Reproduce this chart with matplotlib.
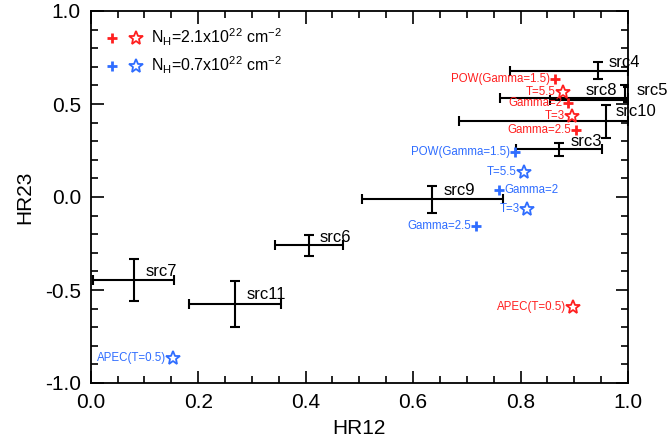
import matplotlib
matplotlib.use('Agg')
import matplotlib.pyplot as plt
import matplotlib.ticker as ticker
from matplotlib.lines import Line2D
from matplotlib.legend_handler import HandlerTuple

plt.rcParams['font.family'] = 'Liberation Sans'
plt.rcParams['mathtext.default'] = 'regular'

# источники: HR12, HR23 и ошибки (вниз/влево, вверх/вправо)
src_names = ['src7', 'src11', 'src6', 'src9', 'src3', 'src10', 'src4', 'src8', 'src5']
src_x = [0.081, 0.269, 0.406, 0.636, 0.872, 0.959, 0.945, 0.995, 1.0]
src_y = [-0.446, -0.575, -0.260, -0.012, 0.258, 0.409, 0.679, 0.534, 0.522]
src_xlo = [0.077, 0.086, 0.063, 0.131, 0.080, 0.274, 0.164, 0.234, 0.146]
src_xhi = [0.074, 0.085, 0.063, 0.132, 0.080, 0.041, 0.055, 0.005, 0.0]
src_ylo = [0.113, 0.124, 0.057, 0.072, 0.038, 0.094, 0.045, 0.010, 0.010]
src_yhi = [0.113, 0.123, 0.056, 0.071, 0.031, 0.086, 0.048, 0.068, 0.070]
# смещение подписи в пикселях
src_dx = [11, 11, 11, 11, 11, 10, 10, -40, 9]
src_dy = [8, 9, 8, 9, 8, 9, 8, 7, 9]

# модели, NH = 2.1e22 (красные) и 0.7e22 (синие)
red_plus_lab = ['POW(Gamma=1.5)', 'Gamma=2', 'Gamma=2.5']
red_plus_x = [0.865, 0.888, 0.904]
red_plus_y = [0.633, 0.507, 0.360]
red_star_lab = ['T=5.5', 'T=3', 'APEC(T=0.5)']
red_star_x = [0.879, 0.896, 0.898]
red_star_y = [0.565, 0.437, -0.593]

blue_plus_lab = ['POW(Gamma=1.5)', 'Gamma=2', 'Gamma=2.5']
blue_plus_x = [0.790, 0.760, 0.717]
blue_plus_y = [0.240, 0.038, -0.156]
blue_star_lab = ['T=5.5', 'T=3', 'APEC(T=0.5)']
blue_star_x = [0.806, 0.812, 0.154]
blue_star_y = [0.133, -0.066, -0.864]

red = '#ff1f1f'
blue = '#2f6dff'

fig = plt.figure(figsize=(6.7, 4.41), dpi=100)
ax = fig.add_axes([90.7 / 670, 1 - 383 / 441, 537.3 / 670, 372 / 441])

for i in range(len(src_names)):
    ax.errorbar(src_x[i], src_y[i],
                xerr=[[src_xlo[i]], [src_xhi[i]]],
                yerr=[[src_ylo[i]], [src_yhi[i]]],
                fmt='none', ecolor='black', elinewidth=1.5, capsize=3.5, capthick=1.5)
    ax.annotate(src_names[i], (src_x[i], src_y[i]), xytext=(src_dx[i], src_dy[i]),
                textcoords='offset pixels', fontsize=12, ha='left', va='center',
                annotation_clip=False)

def models(xs, ys, labs, color, marker, sides):
    for x, y, lab, side in zip(xs, ys, labs, sides):
        if marker == '+':
            ax.plot(x, y, marker='+', color=color, ms=6.5, mew=2, ls='none')
        else:
            ax.plot(x, y, marker='*', color=color, mfc='none', ms=10, mew=1.3, ls='none')
        off = 7 if marker == '*' else 5
        if side == 'l':
            ax.annotate(lab, (x, y), xytext=(-off, 0), textcoords='offset pixels',
                        fontsize=8.3, color=color, ha='right', va='center')
        else:
            ax.annotate(lab, (x, y), xytext=(off, 0), textcoords='offset pixels',
                        fontsize=8.3, color=color, ha='left', va='center')

models(red_plus_x, red_plus_y, red_plus_lab, red, '+', 'lll')
models(red_star_x, red_star_y, red_star_lab, red, '*', 'lll')
models(blue_plus_x, blue_plus_y, blue_plus_lab, blue, '+', 'lrl')
models(blue_star_x, blue_star_y, blue_star_lab, blue, '*', 'lll')

# легенда
h = []
for c in [red, blue]:
    p = Line2D([], [], marker='+', color=c, ms=6.5, mew=2, ls='none')
    s = Line2D([], [], marker='*', color=c, mfc='none', ms=10, mew=1.3, ls='none')
    h.append((p, s))
ax.legend(h, ['N$_H$=2.1x10$^{22}$ cm$^{-2}$', 'N$_H$=0.7x10$^{22}$ cm$^{-2}$'],
          handler_map={tuple: HandlerTuple(ndivide=None, pad=0.8)},
          loc='upper left', frameon=False, fontsize=11.5, handlelength=2.2,
          handletextpad=0.6, borderaxespad=0.6, labelspacing=0.4)

ax.set_xlim(0, 1)
ax.set_ylim(-1, 1)
ax.xaxis.set_major_locator(ticker.MultipleLocator(0.2))
ax.xaxis.set_minor_locator(ticker.MultipleLocator(0.05))
ax.yaxis.set_major_locator(ticker.MultipleLocator(0.5))
ax.yaxis.set_minor_locator(ticker.MultipleLocator(0.1))
ax.xaxis.set_major_formatter(ticker.FormatStrFormatter('%.1f'))
ax.yaxis.set_major_formatter(ticker.FormatStrFormatter('%.1f'))
ax.tick_params(which='both', direction='in', top=True, right=True, width=1.2)
ax.tick_params(which='major', length=9, labelsize=15, pad=7)
ax.tick_params(which='minor', length=5)
for sp in ax.spines.values():
    sp.set_linewidth(1.3)

ax.set_xlabel('HR12', fontsize=15, labelpad=5)
ax.set_ylabel('HR23', fontsize=15, labelpad=8)

fig.savefig('out.png', dpi=100)
